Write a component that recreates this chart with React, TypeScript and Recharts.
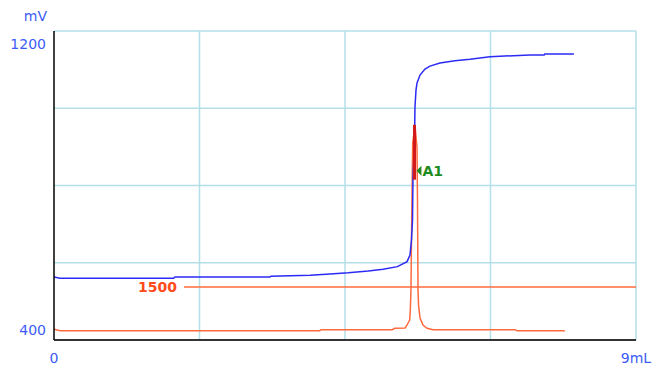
import React from 'react';
import { LineChart, Line, XAxis, YAxis, CartesianGrid, ReferenceLine, ReferenceDot } from 'recharts';

// titration curve (mL -> mV)
const blueVolume = [0, 0.093, 1.85, 1.87, 3.34, 3.356, 3.96, 4.27, 4.55, 4.86, 5.09, 5.31, 5.46, 5.505, 5.528, 5.544, 5.551, 5.575, 5.582, 5.598, 5.613, 5.66, 5.737, 5.814, 5.969, 6.2, 6.433, 6.742, 7.36, 7.58, 7.59, 8.04];
const blueMv = [563, 560, 560, 563, 563, 565, 567.5, 571, 574, 578.5, 583, 590, 603, 620, 659, 711, 814, 918, 1003, 1047, 1065, 1086, 1101.6, 1109, 1117, 1123, 1126.7, 1133.5, 1138, 1138, 1140.4, 1140.4];

// first derivative curve
const derivVolume = [0, 0.093, 4.11, 4.13, 5.23, 5.27, 5.43, 5.46, 5.5, 5.51, 5.52, 5.535, 5.547, 5.582, 5.613, 5.621, 5.629, 5.637, 5.66, 5.706, 5.768, 5.86, 7.13, 7.16, 7.9];
const derivValue = [64, 16, 16, 50, 50, 98, 108, 210, 380, 719, 1399, 4457, 6394, 7006, 6258, 4457, 1399, 889, 448, 210, 98, 50, 50, 16, 16];

// endpoint marker
const markerVolume = [5.575, 5.575];
const markerMv = [957, 815];
const endpointVolume = 5.605;
const endpointMv = 838;
const endpointName = 'A1';

const threshold = 1500;
const thresholdStart = 2.01;

const xTicks = [0, 9];
const xTickLabels = ['0', '9mL'];
const yTicks = [400, 1200];
const gridX = [2.25, 4.5, 6.75, 9];
const gridY = [600, 800, 1000, 1200];

const blueData = blueVolume.map((x, i) => ({ x, v: blueMv[i] }));
const derivData = derivVolume.map((x, i) => ({ x, d: derivValue[i] }));
const markerData = markerVolume.map((x, i) => ({ x, v: markerMv[i] }));

const FONT = '"DejaVu Sans", sans-serif';
const LABEL_BLUE = '#3d5cf5';

function XTick({ x, y, payload }: any) {
  const idx = xTicks.indexOf(payload.value);
  return (
    <text x={x} y={y + 23} textAnchor="middle" fill={LABEL_BLUE} fontSize={14} fontFamily={FONT}>
      {xTickLabels[idx]}
    </text>
  );
}

function YTick({ x, y, payload }: any) {
  const dy = payload.value === 1200 ? 18 : -5;
  return (
    <text x={x - 8} y={y + dy} textAnchor="end" fill={LABEL_BLUE} fontSize={14} fontFamily={FONT}>
      {payload.value}
    </text>
  );
}

function ThresholdLabel({ viewBox }: any) {
  return (
    <text x={viewBox.x - 7} y={viewBox.y + 5} textAnchor="end" fill="#ff4a1a" fontSize={14} fontWeight="bold" fontFamily={FONT}>
      {threshold}
    </text>
  );
}

function EndpointShape({ cx, cy }: any) {
  return (
    <g>
      <polygon points={`${cx},${cy} ${cx + 5},${cy - 5} ${cx + 5},${cy + 5}`} fill="#1e8c1e" />
      <text x={cx + 6} y={cy + 5} fill="#1e8c1e" fontSize={14} fontWeight="bold" fontFamily={FONT}>
        {endpointName}
      </text>
    </g>
  );
}

export default function App() {
  return (
    <div style={{ position: 'absolute', left: 0, top: 0 }}>
      <LineChart width={653} height={365} margin={{ top: 31, right: 17, left: 0, bottom: 0 }}>
        <CartesianGrid stroke="#b3dfe8" strokeWidth={1.5} horizontalValues={gridY} verticalValues={gridX} />
        <XAxis
          type="number"
          dataKey="x"
          domain={[0, 9]}
          ticks={xTicks}
          height={25}
          tickSize={0}
          tickMargin={0}
          tick={<XTick />}
          axisLine={{ stroke: '#333', strokeWidth: 2 }}
          tickLine={false}
          allowDataOverflow
        />
        <YAxis
          type="number"
          domain={[400, 1200]}
          ticks={yTicks}
          width={54}
          tickSize={0}
          tickMargin={0}
          tick={<YTick />}
          axisLine={{ stroke: '#000', strokeWidth: 1.5 }}
          tickLine={false}
          allowDataOverflow
          label={({ viewBox }: any) => (
            <text x={viewBox.x + viewBox.width - 7} y={viewBox.y - 10} textAnchor="end" fill={LABEL_BLUE} fontSize={14} fontFamily={FONT}>
              mV
            </text>
          )}
        />
        <YAxis yAxisId="d" type="number" domain={[-300, 10200]} hide allowDataOverflow />
        <ReferenceLine
          yAxisId="d"
          segment={[{ x: thresholdStart, y: threshold }, { x: 9, y: threshold }]}
          stroke="#ff6a3d"
          strokeWidth={1.5}
          label={<ThresholdLabel />}
        />
        <Line yAxisId="d" data={derivData} dataKey="d" type="linear" stroke="#ff6a3d" strokeWidth={1.5} dot={false} isAnimationActive={false} />
        <Line data={blueData} dataKey="v" type="linear" stroke="#2b2bf5" strokeWidth={1.5} dot={false} isAnimationActive={false} />
        <Line data={markerData} dataKey="v" type="linear" stroke="#d31a1a" strokeWidth={3} dot={false} isAnimationActive={false} />
        <ReferenceDot x={endpointVolume} y={endpointMv} r={5} shape={<EndpointShape />} />
      </LineChart>
    </div>
  );
}
